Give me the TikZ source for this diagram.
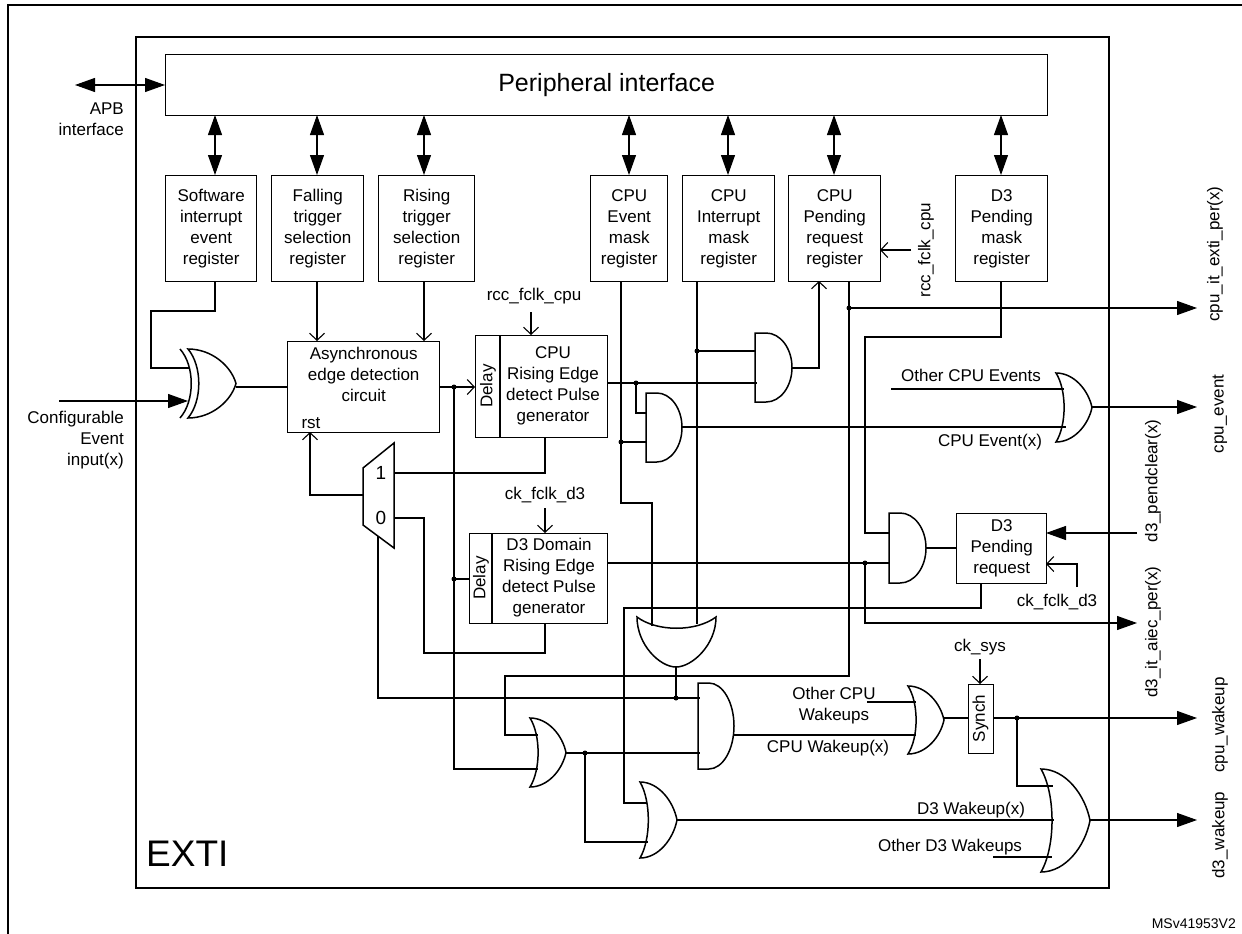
\documentclass[tikz,border=0pt]{standalone}
\usepackage{fontspec}
\setmainfont{Liberation Sans}
\usetikzlibrary{arrows.meta}
\newcommand\ANDg[4]{\draw[gate] (#1,#2) -- ({#1+0.3*(#3-#1)},#2) .. controls ({#1+0.686*(#3-#1)},#2) and (#3,{#2+0.224*(#4-#2)}) .. (#3,{0.5*(#2+#4)}) .. controls (#3,{#4-0.224*(#4-#2)}) and ({#1+0.686*(#3-#1)},#4) .. ({#1+0.3*(#3-#1)},#4) -- (#1,#4) -- cycle;}
\newcommand\ORg[4]{\draw[gate] (#1,#2) .. controls ({#1+0.5*(#3-#1)},#2) and ({#3-0.1*(#3-#1)},{#2+0.25*(#4-#2)}) .. (#3,{0.5*(#2+#4)}) .. controls ({#3-0.1*(#3-#1)},{#4-0.25*(#4-#2)}) and ({#1+0.5*(#3-#1)},#4) .. (#1,#4) .. controls ({#1+0.3*(#3-#1)},{#4-0.25*(#4-#2)}) and ({#1+0.3*(#3-#1)},{#2+0.25*(#4-#2)}) .. (#1,#2) -- cycle;}
\tikzset{
  x=1pt, y=-1pt,
  wire/.style={line width=1.1pt},
  gate/.style={line width=1.5pt},
  box/.style={draw, line width=1.4pt, anchor=north west, inner sep=0pt, align=center, font=\fontsize{17}{21}\selectfont},
  reg/.style={box, minimum height=106pt},
  lbl/.style={font=\fontsize{17}{21}\selectfont, inner sep=0pt, align=center},
  rlbl/.style={lbl, rotate=90},
  dot/.style={circle, fill, inner sep=0pt, minimum size=5pt},
  big/.style={-{Triangle[length=20pt,width=14pt]}},
  dbl/.style={{Triangle[length=20pt,width=14pt]}-{Triangle[length=20pt,width=14pt]}},
  open/.style={-{Straight Barb[length=7pt,width=15pt,line width=1.1pt]}}
}
\begin{document}
\begin{tikzpicture}
\useasboundingbox (0,0) rectangle (1242,934);
\fill[white] (0,0) rectangle (1242,934);
% frames
\draw[line width=1.4pt] (8,940) -- (8,5) -- (1250,5);
\node[draw, line width=1.6pt, anchor=north west, minimum width=973pt, minimum height=851pt, inner sep=0pt] (exti) at (135,36) {};
\node[anchor=south west, inner sep=0pt, font=\fontsize{37}{40}\selectfont] (extil) at (146,867) {EXTI};
\node[box, minimum width=882pt, minimum height=61pt, font=\fontsize{25}{28}\selectfont] (pi) at (165,54) {Peripheral interface};
\coordinate (apb) at (75,85);
\draw[wire, dbl] (apb) -- (pi.west |- apb);
\node[lbl, anchor=north east, align=right] (apbl) at (124,103) {APB\\interface};
% registers
\node[reg, minimum width=91pt] (sw) at (165,175) {Software\\interrupt\\event\\register};
\node[reg, minimum width=92pt] (ft) at (271,175) {Falling\\trigger\\selection\\register};
\node[reg, minimum width=96pt] (rt) at (378,175) {Rising\\trigger\\selection\\register};
\node[reg, minimum width=77pt] (em) at (590,175) {CPU\\Event\\mask\\register};
\node[reg, minimum width=92pt] (im) at (682,175) {CPU\\Interrupt\\mask\\register};
\node[reg, minimum width=92pt] (pr) at (788,175) {CPU\\Pending\\request\\register};
\node[reg, minimum width=92pt] (dm) at (955,175) {D3\\Pending\\mask\\register};
\foreach \n/\x in {sw/215,ft/317,rt/424,em/629,im/728,pr/834,dm/1001}
  \draw[wire, dbl] (\x,115) -- (\x,175);
% async box
\node[box, minimum width=152pt, minimum height=91pt] (as) at (287,341) {Asynchronous\\edge detection\\circuit\\[4pt]};
\node[lbl, anchor=base] (rst) at (311,428) {rst};
% pulse generators
\node[box, minimum width=132pt, minimum height=102pt] (cp) at (475,335) {};
\draw[line width=1.4pt] (500,335) -- (500,437);
\node[rlbl] (cpd) at (488,386) {Delay};
\node[lbl] (cpt) at (553,386) {CPU\\Rising Edge\\detect Pulse\\generator};
\node[box, minimum width=138pt, minimum height=90pt] (dp) at (469,533) {};
\draw[line width=1.4pt] (492,533) -- (492,623);
\node[rlbl] (dpd) at (481,578) {Delay};
\node[lbl] (dpt) at (549,578) {D3 Domain\\Rising Edge\\detect Pulse\\generator};
\node[lbl] (rcc1) at (534,296) {rcc\_fclk\_cpu};
\node[lbl] (ckd1) at (545,495) {ck\_fclk\_d3};
\draw[wire, open] (531,312) -- (531,335);
\draw[wire, open] (545,508) -- (545,533);
% D3 pending request, synch
\node[box, minimum width=90pt, minimum height=70pt] (dpr) at (956,513) {D3\\Pending\\request};
\node[box, minimum width=25pt, minimum height=69pt] (sy) at (968,684) {};
\node[rlbl] (syt) at (980.5,718.5) {Synch};
\node[lbl] (cks) at (980,647) {ck\_sys};
\draw[wire, open] (980,659) -- (980,684);
% XOR
\ORg{188}{349}{236}{418}
\draw[gate] (180,349) .. controls (195,366) and (195,401) .. (180,418);
\draw[wire] (215,281) -- (215,311) -- (151,311) -- (151,368) -- (190,368);
\draw[line width=1.1pt, big] (59,401) -- (188,401);
\node[lbl, anchor=north east, align=right] (cfg) at (124,411) {Configurable\\Event\\input(x)};
\draw[wire] (236,387) -- (287,387);
\draw[wire, open] (317,281) -- (317,341);
\draw[wire, open] (424,281) -- (424,341);
\draw[wire, open] (439,387) -- (475,387);
\node[dot] at (454,387) {};
\draw[wire] (454,387) -- (454,769) -- (538,769);
\node[dot] at (454,579) {};
\draw[wire] (454,579) -- (469,579);
% mux
\draw[gate] (394,443) -- (394,548) -- (363,525) -- (363,468) -- cycle;
\node[lbl, font=\fontsize{19}{20}\selectfont] (m1) at (381,473) {1};
\node[lbl, font=\fontsize{19}{20}\selectfont] (m0) at (381,518) {0};
\draw[wire, open] (363,495) -- (310,495) -- (310,432);
\draw[wire] (394,473) -- (545,473) -- (545,437);
\draw[wire] (394,518) -- (424,518) -- (424,653) -- (545,653) -- (545,623);
\draw[wire] (378,536) -- (378,698) -- (700,698);
% CPU side gates
\draw[wire] (607,383) -- (757,383);
\node[dot] at (636,383) {};
\draw[wire] (636,383) -- (636,413) -- (646,413);
\draw[wire] (621,281) -- (621,503) -- (652,503) -- (652,626);
\node[dot] at (621,442) {};
\draw[wire] (621,442) -- (646,442);
\draw[wire] (697,281) -- (697,624);
\node[dot] at (697,351) {};
\draw[wire] (697,351) -- (755,351);
\ANDg{755}{333}{792}{402}
\draw[wire, open] (792,368) -- (819,368) -- (819,281);
\ANDg{646}{393}{682}{462}
\draw[wire] (682,427) -- (1066,427);
\node[rlbl] (rcc2) at (926,250) {rcc\_fclk\_cpu};
\draw[wire, open] (911,250) -- (880,250);
\draw[wire] (849,281) -- (849,676) -- (505,676) -- (505,735) -- (538,735);
\node[dot] at (849,308) {};
\draw[wire, big] (849,308) -- (1197,308);
\ORg{1056}{373}{1092}{442}
\draw[wire] (891,389) -- (1064,389);
\draw[wire, big] (1092,407) -- (1197,407);
\node[lbl] (oce) at (971,375) {Other CPU Events};
\node[lbl] (cex) at (990,442) {CPU Event(x)};
% D3 side
\draw[wire] (1001,281) -- (1001,337) -- (865,337) -- (865,533) -- (889,533);
\draw[wire] (607,563) -- (889,563);
\node[dot] at (865,563) {};
\draw[wire, big] (865,563) -- (865,623) -- (1137,623);
\ANDg{889}{513}{926}{583}
\draw[wire] (926,548) -- (956,548);
\draw[wire, big] (1137,533) -- (1046,533);
\draw[wire, open] (1077,587) -- (1077,564) -- (1046,564);
\node[lbl] (ckd2) at (1057,602) {ck\_fclk\_d3};
\draw[wire] (981,583) -- (981,608) -- (624,608) -- (624,803) -- (647,803);
% downward OR
\draw[gate] (637,617) .. controls (637,645) and (660,667) .. (676,667) .. controls (692,667) and (716,645) .. (716,617) .. controls (696,632) and (657,632) .. (637,617) -- cycle;
\draw[wire] (676,667) -- (676,698);
\node[dot] at (676,698) {};
% wakeup gates
\ORg{530}{718}{566}{787}
\draw[wire] (566,753) -- (700,753);
\node[dot] at (585,753) {};
\draw[wire] (585,753) -- (585,842) -- (648,842);
\ANDg{698}{683}{734}{769}
\draw[wire] (734,735) -- (916,735);
\draw[wire] (867,702) -- (916,702);
\ORg{908}{686}{944}{754}
\draw[wire] (944,718) -- (968,718);
\node[lbl] (ocw) at (834,706) {Other CPU\\Wakeups};
\node[lbl] (cwx) at (828,748) {CPU Wakeup(x)};
\draw[wire, big] (993,718) -- (1197,718);
\node[dot] at (1017,718) {};
\draw[wire] (1017,718) -- (1017,786) -- (1053,786);
\ORg{640}{782}{677}{858}
\draw[wire] (677,820) -- (1054,820);
\ORg{1041}{769}{1090}{872}
\draw[wire] (993,857) -- (1052,857);
\draw[wire, big] (1090,820) -- (1197,820);
\node[lbl] (d3w) at (971,810) {D3 Wakeup(x)};
\node[lbl] (od3) at (950,847) {Other D3 Wakeups};
% output labels
\node[rlbl] at (1215,254) {cpu\_it\_exti\_per(x)};
\node[rlbl] at (1220,414) {cpu\_event};
\node[rlbl] at (1153,481) {d3\_pendclear(x)};
\node[rlbl] at (1153,632) {d3\_it\_aiec\_per(x)};
\node[rlbl] at (1220,725) {cpu\_wakeup};
\node[rlbl] at (1220,835) {d3\_wakeup};
\node[anchor=base east, inner sep=0pt, font=\fontsize{14}{16}\selectfont] (ms) at (1236,928) {MSv41953V2};
\end{tikzpicture}
\end{document}
